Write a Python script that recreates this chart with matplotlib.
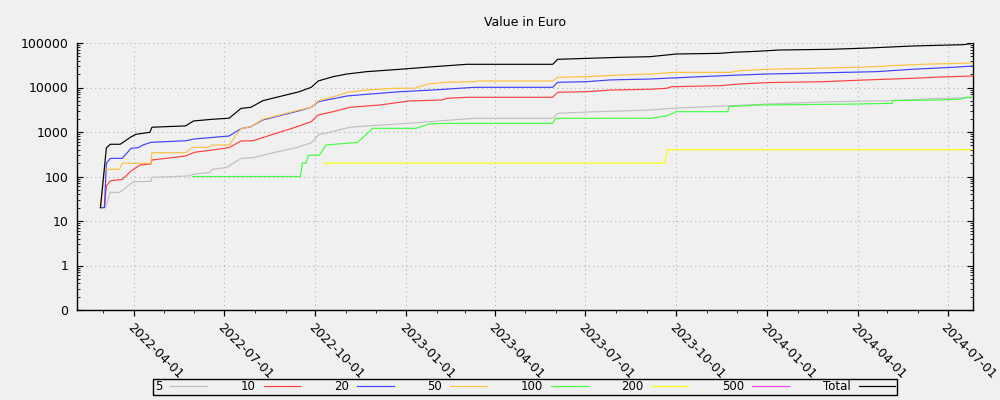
import numpy as np
import matplotlib
matplotlib.use("Agg")
import matplotlib.pyplot as plt
import matplotlib.dates as mdates
from matplotlib.ticker import LogLocator, FixedLocator, NullFormatter

# ---------------- data ----------------
series_names = ["5", "10", "20", "50", "100", "200", "500", "Total"]
series_colors = ["#c0c0c0", "#ff4040", "#4040ff", "#ffc040", "#40ff40", "#ffff00", "#ff40ff", "#000000"]

dates_5 = ["2022-03-03", "2022-03-08", "2022-03-17", "2022-03-22", "2022-03-29", "2022-04-01", "2022-04-18",
           "2022-04-19", "2022-05-26", "2022-06-01", "2022-06-16", "2022-06-19", "2022-07-04", "2022-07-18",
           "2022-07-30", "2022-08-20", "2022-09-12", "2022-09-27", "2022-10-05", "2022-10-12", "2022-11-05",
           "2022-11-26", "2023-01-04", "2023-02-06", "2023-03-11", "2023-05-29", "2023-06-03", "2023-07-02",
           "2023-08-05", "2023-09-04", "2023-09-27", "2024-01-01", "2024-03-07", "2024-05-07", "2024-06-23",
           "2024-07-27"]
values_5 = [20, 44, 44, 52, 70, 76, 78, 96, 103, 114, 122, 145, 161, 256, 264, 343, 445, 570, 888, 940,
            1277, 1387, 1567, 1795, 2030, 2030, 2630, 2810, 2960, 3120, 3410, 4250, 4800, 5070, 5710, 5900]

dates_10 = ["2022-02-26", "2022-03-02", "2022-03-04", "2022-03-08", "2022-03-20", "2022-03-29", "2022-04-07",
            "2022-04-18", "2022-04-19", "2022-05-23", "2022-06-01", "2022-06-19", "2022-07-06", "2022-07-18",
            "2022-07-30", "2022-09-15", "2022-09-27", "2022-10-04", "2022-10-19", "2022-11-05", "2022-12-05",
            "2023-01-04", "2023-02-06", "2023-02-11", "2023-03-04", "2023-05-29", "2023-06-03", "2023-07-02",
            "2023-07-28", "2023-09-04", "2023-09-21", "2023-09-26", "2023-11-14", "2023-12-04", "2024-01-01",
            "2024-02-26", "2024-04-10", "2024-05-27", "2024-06-23", "2024-07-27"]
values_10 = [20, 20, 61, 80, 86, 133, 181, 191, 235, 289, 350, 394, 445, 628, 637, 1366, 1710, 2410, 2860,
             3590, 4040, 4980, 5240, 5710, 6030, 6030, 7800, 8050, 8790, 9130, 9600, 10400, 11000, 12000,
             12900, 13500, 14800, 16100, 17200, 18100]

dates_20 = ["2022-02-26", "2022-03-02", "2022-03-04", "2022-03-08", "2022-03-20", "2022-03-29", "2022-04-05",
            "2022-04-10", "2022-04-18", "2022-05-23", "2022-06-01", "2022-07-06", "2022-07-18", "2022-07-28",
            "2022-08-09", "2022-09-15", "2022-09-27", "2022-10-04", "2022-11-02", "2022-11-22", "2022-12-26",
            "2023-01-28", "2023-03-11", "2023-05-29", "2023-06-03", "2023-07-02", "2023-07-26", "2023-09-04",
            "2023-10-18", "2023-12-04", "2024-01-01", "2024-02-02", "2024-04-20", "2024-05-27", "2024-07-07",
            "2024-07-27"]
values_20 = [20, 20, 198, 256, 256, 431, 445, 511, 586, 637, 697, 813, 1186, 1315, 1862, 3010, 3590, 4800,
             6440, 7030, 8050, 8790, 10100, 10100, 13100, 13500, 14800, 15500, 17200, 19100, 20100, 20800,
             22700, 25700, 28500, 30400]

dates_50 = ["2022-02-26", "2022-03-02", "2022-03-17", "2022-03-20", "2022-04-18", "2022-04-19", "2022-05-23",
            "2022-05-30", "2022-06-15", "2022-06-19", "2022-07-06", "2022-07-18", "2022-07-28", "2022-08-09",
            "2022-09-15", "2022-09-27", "2022-10-04", "2022-10-19", "2022-11-03", "2022-11-22", "2022-12-19",
            "2023-01-09", "2023-01-23", "2023-02-10", "2023-03-11", "2023-03-14", "2023-05-29", "2023-06-03",
            "2023-07-02", "2023-08-05", "2023-09-04", "2023-09-29", "2023-11-24", "2023-12-04", "2024-01-01",
            "2024-02-02", "2024-04-03", "2024-05-27", "2024-06-16", "2024-07-17", "2024-07-27"]
values_50 = [20, 145, 145, 198, 198, 343, 343, 453, 453, 511, 511, 1186, 1315, 1930, 3120, 3590, 4980, 6210,
             7800, 8790, 9600, 9600, 12000, 13100, 13500, 14000, 14000, 16900, 17500, 19100, 20100, 21900,
             21900, 23900, 25700, 26500, 28500, 32600, 33800, 34900, 36100]

dates_100 = ["2022-05-30", "2022-09-16", "2022-09-18", "2022-09-22", "2022-09-24", "2022-10-05", "2022-10-12",
             "2022-11-13", "2022-11-28", "2023-01-11", "2023-01-24", "2023-02-13", "2023-05-29", "2023-06-01",
             "2023-09-04", "2023-09-21", "2023-10-01", "2023-11-22", "2023-11-23", "2023-12-24", "2024-03-30",
             "2024-05-06", "2024-05-07", "2024-06-23", "2024-07-15", "2024-07-20", "2024-07-27"]
values_100 = [100, 100, 200, 200, 300, 300, 510, 586, 1210, 1210, 1510, 1567, 1567, 2030, 2030, 2290, 2860,
              2860, 3710, 4040, 4250, 4410, 5070, 5240, 5520, 6030, 6030]

dates_200 = ["2022-10-10", "2023-09-19", "2023-09-22", "2024-07-27"]
values_200 = [200, 200, 400, 400]

dates_500 = []
values_500 = []

dates_total = ["2022-02-26", "2022-03-04", "2022-03-08", "2022-03-18", "2022-03-29", "2022-04-03", "2022-04-17",
               "2022-04-19", "2022-05-23", "2022-05-31", "2022-06-19", "2022-07-06", "2022-07-18", "2022-07-28",
               "2022-08-09", "2022-09-15", "2022-09-27", "2022-10-04", "2022-10-19", "2022-11-02", "2022-11-22",
               "2022-12-26", "2023-01-28", "2023-03-03", "2023-05-29", "2023-06-03", "2023-07-05", "2023-08-05",
               "2023-09-04", "2023-10-01", "2023-11-14", "2023-11-27", "2023-12-21", "2024-01-13", "2024-03-04",
               "2024-04-13", "2024-05-27", "2024-07-17", "2024-07-27"]
values_total = [20, 440, 530, 530, 780, 890, 985, 1280, 1370, 1770, 1930, 2040, 3390, 3590, 5050, 8050, 10100,
                14000, 17500, 20100, 22700, 25700, 29300, 33200, 33200, 43000, 45300, 47700, 49200, 56600,
                58600, 61800, 65000, 69600, 72100, 77300, 85700, 91700, 98400]

y_tick_values = [0.1, 1, 10, 100, 1000, 10000, 100000]
y_tick_labels = ["0", "1", "10", "100", "1000", "10000", "100000"]

# ---------------- plot ----------------
bg = "#f0f0f0"
fig = plt.figure(figsize=(10, 4), dpi=100, facecolor=bg)
ax = fig.add_axes([0.0767, 0.225, 0.8966, 0.6675], facecolor=bg)

all_dates = [dates_5, dates_10, dates_20, dates_50, dates_100, dates_200, dates_500, dates_total]
all_values = [values_5, values_10, values_20, values_50, values_100, values_200, values_500, values_total]

handles = []
for name, color, d, v in zip(series_names, series_colors, all_dates, all_values):
    x = np.array(d, dtype="datetime64[D]")
    y = np.array(v, dtype=float)
    ln, = ax.plot(x, y, color=color, lw=0.85, label=name, zorder=3)
    handles.append(ln)

ax.set_yscale("log")
ax.set_ylim(0.1, 100000)
ax.yaxis.set_major_locator(FixedLocator(y_tick_values))
ax.set_yticklabels(y_tick_labels)
ax.yaxis.set_minor_locator(LogLocator(base=10, subs=np.arange(2, 10), numticks=20))
ax.yaxis.set_minor_formatter(NullFormatter())

ax.set_xlim(np.datetime64("2022-02-02"), np.datetime64("2024-07-27"))
ax.xaxis.set_major_locator(mdates.MonthLocator(bymonth=[1, 4, 7, 10], bymonthday=1))
ax.xaxis.set_minor_locator(mdates.MonthLocator(bymonthday=1))
ax.xaxis.set_major_formatter(mdates.DateFormatter("%Y-%m-%d"))

ax.grid(True, which="major", color="#b4b4b4", linestyle=(0, (1, 3)), linewidth=0.8, zorder=0)

ax.spines["top"].set_visible(False)
for s in ["left", "bottom", "right"]:
    ax.spines[s].set_color("black")
    ax.spines[s].set_linewidth(1.0)

ax.tick_params(axis="y", which="major", direction="in", length=4, width=0.8, labelsize=9, pad=6,
               right=True, left=True)
ax.tick_params(axis="y", which="minor", direction="in", length=2, width=0.6, right=True, left=True)
ax.tick_params(axis="x", which="major", direction="out", length=4, width=0.9, labelsize=9, pad=4)
ax.tick_params(axis="x", which="minor", direction="out", length=2, width=0.6)

for lbl in ax.get_xticklabels():
    lbl.set_rotation(-45)
    lbl.set_ha("left")
    lbl.set_va("top")
    lbl.set_rotation_mode("anchor")

fig.text(0.525, 0.945, "Value in Euro", ha="center", va="center", fontsize=9)

leg = fig.legend(handles, series_names, loc="center", bbox_to_anchor=(0.525, 0.0325), ncol=8,
                 markerfirst=False, frameon=True, fancybox=False, edgecolor="black", facecolor=bg,
                 framealpha=1, fontsize=8.5, handlelength=3.1, handletextpad=0.7, columnspacing=2.85,
                 borderpad=0.1, borderaxespad=0)
leg.get_frame().set_linewidth(1.0)

fig.savefig("out.png", dpi=100, facecolor=bg)
